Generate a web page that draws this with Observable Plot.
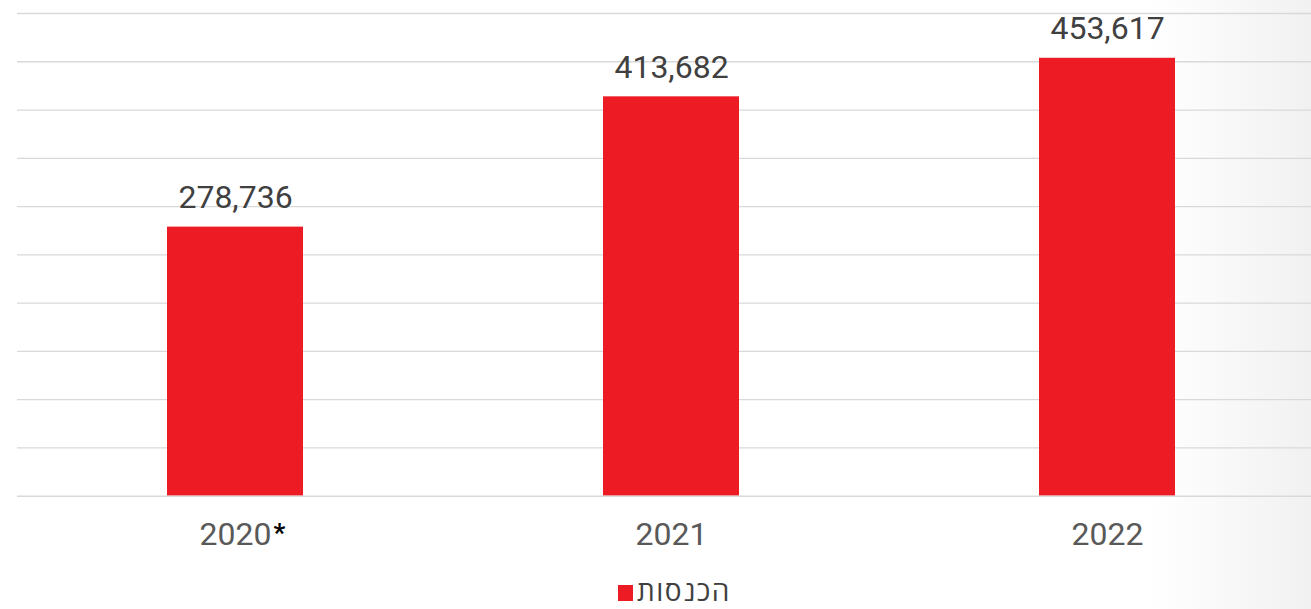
<!DOCTYPE html>
<html>
<head>
<meta charset="utf-8">
<script src="https://cdn.jsdelivr.net/npm/d3@7"></script>
<script src="https://cdn.jsdelivr.net/npm/@observablehq/plot@0.6"></script>
<style>
  html, body { margin: 0; padding: 0; }
  body {
    width: 1311px; height: 609px; overflow: hidden;
    background: linear-gradient(to right, #ffffff 0px, #ffffff 1150px, #f1f1f1 1311px);
    font-family: Roboto, "Open Sans", "DejaVu Sans", sans-serif;
  }
  #legend { position: relative; height: 37px; }
  #legend .sw { position: absolute; left: 618px; top: 13px; width: 15px; height: 16px; background: #ED1C24; }
  #legend .tx { position: absolute; left: 637px; top: 4px; font-size: 28px; letter-spacing: 1.5px; color: #404040; line-height: 32px; white-space: nowrap; }
</style>
</head>
<body>
<div id="chart"></div>
<div id="legend"><div class="sw"></div><div class="tx">הכנסות</div></div>
<script>
const years = ["2020", "2021", "2022"];
const notes = ["*", "", ""];
const revenue = [278736, 413682, 453617];
const gridTicks = [0, 50000, 100000, 150000, 200000, 250000, 300000, 350000, 400000, 450000, 500000];
const seriesName = "הכנסות";

const data = years.map((y, i) => ({year: y, value: revenue[i], note: notes[i]}));

const chart = Plot.plot({
  width: 1311,
  height: 572,
  marginTop: 13,
  marginBottom: 76.3,
  marginLeft: 17,
  marginRight: 0,
  style: {background: "transparent", fontFamily: "Roboto, 'Open Sans', sans-serif"},
  x: {domain: years, range: [17, 1326.4], paddingInner: 0.687, paddingOuter: 0.343, label: null},
  y: {domain: [0, 500000], axis: null},
  marks: [
    Plot.ruleY(gridTicks.filter(d => d > 0), {stroke: "#d9d9d9", strokeWidth: 1.3}),
    Plot.barY(data, {x: "year", y: "value", fill: "#ED1C24"}),
    Plot.ruleY([0], {stroke: "#d9d9d9", strokeWidth: 1.5}),
    Plot.text(data, {x: "year", y: "value", text: d => d3.format(",")(d.value), dy: -19, lineAnchor: "bottom", fontSize: 32, fill: "#404040"}),
    Plot.axisX({tickSize: 0, tickPadding: 26, fontSize: 32, color: "#595959", label: null}),
    Plot.text(data.filter(d => d.note), {x: "year", frameAnchor: "bottom", text: "note", textAnchor: "start", dx: 38, dy: 27, lineAnchor: "top", fontSize: 26, fontWeight: "bold", fill: "#000"})
  ]
});
document.getElementById("chart").appendChild(chart);
</script>
</body>
</html>
